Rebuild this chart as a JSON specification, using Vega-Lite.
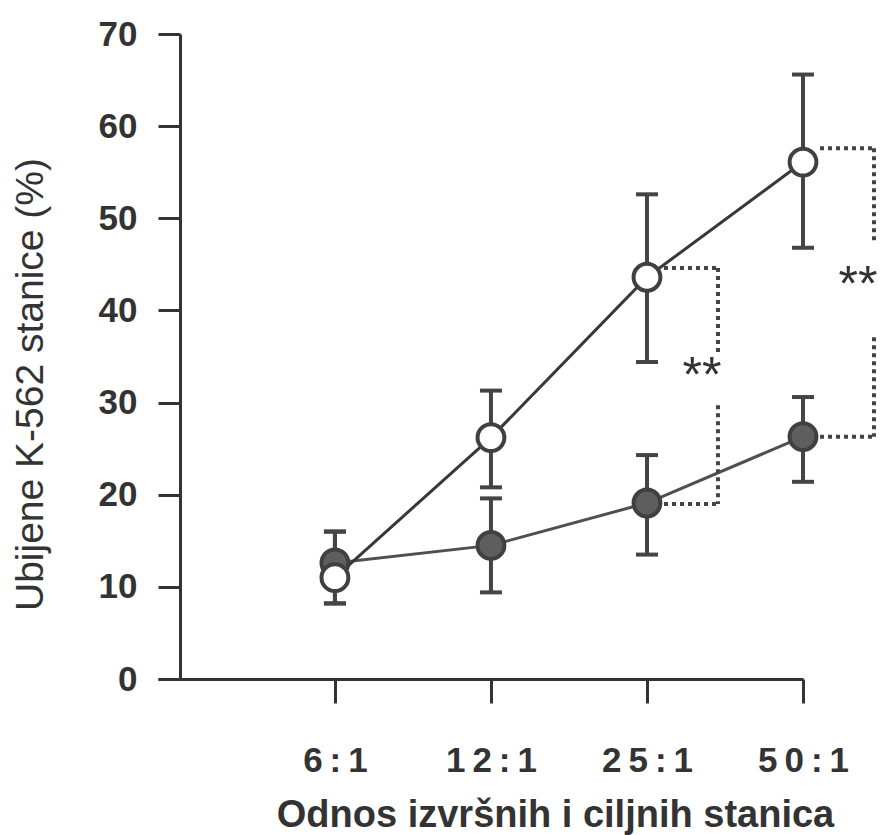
{
  "$schema": "https://vega.github.io/schema/vega-lite/v6.json",
  "autosize": "none",
  "width": 645,
  "height": 645,
  "padding": {"left": 158, "top": 34, "right": 79, "bottom": 156},
  "background": "white",
  "config": {
    "view": {"stroke": null},
    "font": "Liberation Sans"
  },
  "datasets": {
    "means": [
      {"ratio": "6:1", "group": "filled", "mean": 12.6, "lo": 8.2, "hi": 16.0},
      {"ratio": "12:1", "group": "filled", "mean": 14.5, "lo": 9.4, "hi": 19.6},
      {"ratio": "25:1", "group": "filled", "mean": 19.1, "lo": 13.5, "hi": 24.3},
      {"ratio": "50:1", "group": "filled", "mean": 26.3, "lo": 21.4, "hi": 30.6},
      {"ratio": "6:1", "group": "open", "mean": 11.0, "lo": 8.2, "hi": 16.0},
      {"ratio": "12:1", "group": "open", "mean": 26.2, "lo": 20.8, "hi": 31.3},
      {"ratio": "25:1", "group": "open", "mean": 43.6, "lo": 34.4, "hi": 52.6},
      {"ratio": "50:1", "group": "open", "mean": 56.1, "lo": 46.8, "hi": 65.6}
    ],
    "bracketH": [
      {"ratio": "25:1", "y": 44.6},
      {"ratio": "25:1", "y": 19.0},
      {"ratio": "50:1", "y": 57.6},
      {"ratio": "50:1", "y": 26.3}
    ],
    "bracketV": [
      {"ratio": "25:1", "y1": 44.6, "y2": 35.5},
      {"ratio": "25:1", "y1": 29.7, "y2": 19.0},
      {"ratio": "50:1", "y1": 57.6, "y2": 47.4},
      {"ratio": "50:1", "y1": 37.1, "y2": 26.3}
    ],
    "stars": [
      {"ratio": "25:1", "y": 33.9, "label": "**"},
      {"ratio": "50:1", "y": 43.7, "label": "**"}
    ]
  },
  "layer": [
    {
      "data": {"name": "means"},
      "mark": {"type": "rule", "strokeWidth": 4, "color": "#444444"},
      "encoding": {
        "x": {
          "field": "ratio", "type": "ordinal",
          "sort": ["6:1", "12:1", "25:1", "50:1"],
          "scale": {"type": "point", "padding": 0.567, "align": 1},
          "axis": {
            "title": "Odnos izvršnih i ciljnih stanica",
            "titleFont": "Liberation Sans", "titleFontSize": 38, "titleFontWeight": "bold",
            "titleColor": "#333333",
            "titleX": 397, "titleY": 136, "titleAnchor": null, "titleBaseline": "middle", "titleAlign": "center",
            "labelFont": "Liberation Sans", "labelFontSize": 35, "labelFontWeight": "bold",
            "labelColor": "#333333", "labelAngle": 0, "labelPadding": 40, "labelBaseline": "top",
            "labelExpr": "join(split(datum.label, ''), '\u2009')",
            "domainColor": "#333333", "domainWidth": 3,
            "tickColor": "#333333", "tickWidth": 3, "tickSize": 24,
            "grid": false
          }
        },
        "y": {
          "field": "lo", "type": "quantitative",
          "scale": {"domain": [0, 70], "nice": false, "zero": true},
          "axis": {
            "title": "Ubijene K-562 stanice (%)",
            "titleFont": "Liberation Sans", "titleFontSize": 39, "titleFontWeight": "normal",
            "titleColor": "#333333",
            "titleAngle": -90, "titleX": -150, "titleY": 350, "titleAlign": "center", "titleBaseline": "middle",
            "values": [0, 10, 20, 30, 40, 50, 60, 70],
            "offset": -22,
            "labelFont": "Liberation Sans", "labelFontSize": 35, "labelFontWeight": "bold",
            "labelColor": "#333333", "labelPadding": 21,
            "domainColor": "#333333", "domainWidth": 3,
            "tickColor": "#333333", "tickWidth": 3, "tickSize": 22,
            "grid": false
          }
        },
        "y2": {"field": "hi"}
      }
    },
    {
      "data": {"name": "means"},
      "mark": {"type": "tick", "orient": "horizontal", "size": 22, "thickness": 4, "color": "#444444", "opacity": 1},
      "encoding": {
        "x": {"field": "ratio", "type": "ordinal", "sort": ["6:1", "12:1", "25:1", "50:1"]},
        "y": {"field": "lo", "type": "quantitative"}
      }
    },
    {
      "data": {"name": "means"},
      "mark": {"type": "tick", "orient": "horizontal", "size": 22, "thickness": 4, "color": "#444444", "opacity": 1},
      "encoding": {
        "x": {"field": "ratio", "type": "ordinal", "sort": ["6:1", "12:1", "25:1", "50:1"]},
        "y": {"field": "hi", "type": "quantitative"}
      }
    },
    {
      "data": {"name": "means"},
      "mark": {"type": "line", "strokeWidth": 3},
      "encoding": {
        "x": {"field": "ratio", "type": "ordinal", "sort": ["6:1", "12:1", "25:1", "50:1"]},
        "y": {"field": "mean", "type": "quantitative"},
        "detail": {"field": "group"},
        "color": {"field": "group", "type": "nominal", "scale": {"domain": ["filled", "open"], "range": ["#505050", "#383838"]}, "legend": null}
      }
    },
    {
      "data": {"name": "means"},
      "mark": {"type": "point", "shape": "circle", "filled": true, "size": 720, "stroke": "#404040", "strokeWidth": 4, "opacity": 1},
      "encoding": {
        "x": {"field": "ratio", "type": "ordinal", "sort": ["6:1", "12:1", "25:1", "50:1"]},
        "y": {"field": "mean", "type": "quantitative"},
        "fill": {"field": "group", "type": "nominal", "scale": {"domain": ["filled", "open"], "range": ["#5e5e5e", "#ffffff"]}, "legend": null}
      }
    },
    {
      "data": {"name": "bracketH"},
      "mark": {"type": "rule", "strokeWidth": 4, "strokeDash": [4, 4], "color": "#444444", "xOffset": 17, "x2Offset": 71},
      "encoding": {
        "x": {"field": "ratio", "type": "ordinal", "sort": ["6:1", "12:1", "25:1", "50:1"]},
        "x2": {"field": "ratio"},
        "y": {"field": "y", "type": "quantitative"}
      }
    },
    {
      "data": {"name": "bracketV"},
      "mark": {"type": "rule", "strokeWidth": 4, "strokeDash": [4, 4], "color": "#444444", "xOffset": 71},
      "encoding": {
        "x": {"field": "ratio", "type": "ordinal", "sort": ["6:1", "12:1", "25:1", "50:1"]},
        "y": {"field": "y1", "type": "quantitative"},
        "y2": {"field": "y2"}
      }
    },
    {
      "data": {"name": "stars"},
      "mark": {"type": "text", "dx": 55, "dy": 10, "fontSize": 50, "font": "Liberation Sans", "color": "#333333", "align": "center", "baseline": "middle"},
      "encoding": {
        "x": {"field": "ratio", "type": "ordinal", "sort": ["6:1", "12:1", "25:1", "50:1"]},
        "y": {"field": "y", "type": "quantitative"},
        "text": {"field": "label"}
      }
    }
  ]
}
